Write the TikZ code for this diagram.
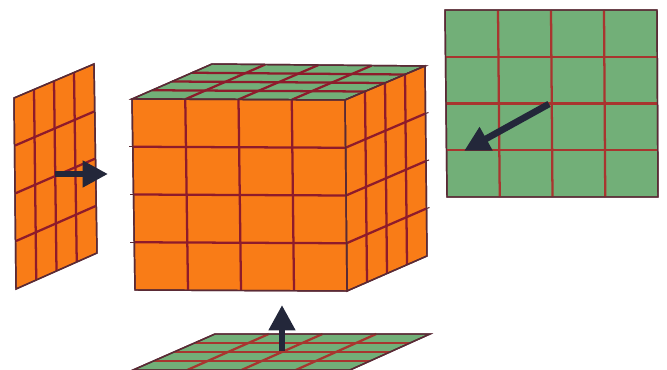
\documentclass[tikz,border=0pt]{standalone}
\usepackage{xcolor}
\usetikzlibrary{calc,arrows.meta}

\definecolor{faceorange}{HTML}{F97C17}
\definecolor{facegreen}{HTML}{72AF78}
\definecolor{gridred}{HTML}{8E1B2B}
\definecolor{gridbrown}{HTML}{A8352F}
\definecolor{edgedark}{HTML}{5A2A35}
\definecolor{arrowink}{HTML}{23273A}

\tikzset{
  facefill/.style={fill=#1, draw=edgedark, line width=1.1pt},
  gridline/.style={draw=#1, line width=1.7pt},
  flowarrow/.style={draw=arrowink, line width=5pt,
    -{Triangle[length=19pt,width=19pt,fill=arrowink]}},
}

% corners in the order: near top left, top right, bottom right, bottom left
\newcommand{\gridpanel}[6]{
  \fill[facefill=#5] (#1) -- (#2) -- (#3) -- (#4) -- cycle;
  \foreach \t in {0.25,0.5,0.75}{
    \draw[gridline=#6] ($(#1)!\t!(#2)$) -- ($(#4)!\t!(#3)$);
    \draw[gridline=#6] ($(#1)!\t!(#4)$) -- ($(#2)!\t!(#3)$);
  }
  \draw[draw=edgedark, line width=1.1pt] (#1) -- (#2) -- (#3) -- (#4) -- cycle;
}

\begin{document}
\begin{tikzpicture}[x=0.75pt, y=-0.75pt]
\useasboundingbox (0,0) rectangle (667,370);

% left panel
\coordinate (LA) at (14,98);
\coordinate (LB) at (94,64);
\coordinate (LC) at (97,253);
\coordinate (LD) at (16,289);
\gridpanel{LA}{LB}{LC}{LD}{faceorange}{gridred}

% cube
\coordinate (FA) at (132,99);
\coordinate (FB) at (345,100);
\coordinate (FC) at (347,291);
\coordinate (FD) at (135,290);
\coordinate (RB) at (425,66);
\coordinate (RC) at (427,256);
\coordinate (TB) at (212,64);
\gridpanel{TB}{RB}{FB}{FA}{facegreen}{gridred}
\gridpanel{FB}{RB}{RC}{FC}{faceorange}{gridred}
\gridpanel{FA}{FB}{FC}{FD}{faceorange}{gridred}

% ticks on the cube edges
\foreach \t in {0.25,0.5,0.75}{
  \draw[draw=edgedark, line width=0.8pt] ($(FA)!\t!(FD)$) -- ++(-4,0);
  \draw[draw=edgedark, line width=0.8pt] ($(RB)!\t!(RC)$) -- ++(3,-1);
}

% bottom panel
\coordinate (BA) at (215,334);
\coordinate (BB) at (430,334);
\coordinate (BC) at (350,370);
\coordinate (BD) at (133,370);
\gridpanel{BA}{BB}{BC}{BD}{facegreen}{gridbrown}

% top right panel
\coordinate (GA) at (445,10);
\coordinate (GB) at (657,10);
\coordinate (GC) at (658,197);
\coordinate (GD) at (447,197);
\gridpanel{GA}{GB}{GC}{GD}{facegreen}{gridbrown}

% arrows
\coordinate (P) at (55,174);
\coordinate (Q) at (108,174);
\coordinate (R) at (282,351);
\coordinate (S) at (282,305);
\coordinate (U) at (549,104);
\coordinate (V) at (464,151);
\draw[flowarrow] (P) -- (Q);
\draw[flowarrow] (R) -- (S);
\draw[flowarrow] (U) -- (V);
\end{tikzpicture}
\end{document}
